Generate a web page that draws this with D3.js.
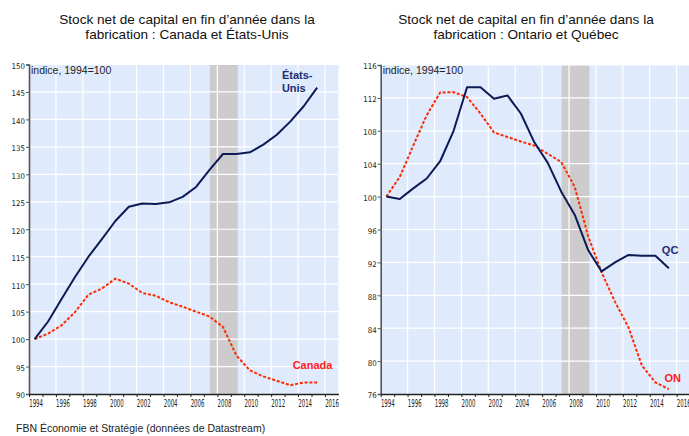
<!DOCTYPE html>
<html>
<head>
<meta charset="utf-8">
<script src="https://cdn.jsdelivr.net/npm/d3@7"></script>
<style>
  body { margin: 0; background: #ffffff; }
  svg { display: block; font-family: "Liberation Sans", Arial, sans-serif; }
  .title { font-size: 13.6px; fill: #111; }
  .unit { font-size: 10.5px; fill: #222; }
  .source { font-size: 10.5px; fill: #222; }
  .lbl { font-size: 11px; font-weight: bold; }
  .y-axis text { font-family: "Liberation Sans Narrow", "DejaVu Sans Condensed", sans-serif; font-size: 7.8px; fill: #222; }
  .x-axis text { font-family: "Liberation Sans Narrow", "DejaVu Sans Condensed", sans-serif; font-size: 10.4px; fill: #222; }
</style>
</head>
<body>
<div id="chart"></div>
<script>
// Years (annual, end of year)
var years = [1994, 1995, 1996, 1997, 1998, 1999, 2000, 2001, 2002, 2003, 2004,
  2005, 2006, 2007, 2008, 2009, 2010, 2011, 2012, 2013, 2014, 2015];

// Left panel: Canada vs United States (index, 1994=100)
var us_values = [100, 103.2, 107.3, 111.3, 115.0, 118.2, 121.5, 124.1, 124.7, 124.6, 124.9,
  125.9, 127.7, 130.8, 133.7, 133.7, 134.0, 135.4, 137.2, 139.6, 142.4, 145.8];
var canada_values = [100, 101.0, 102.5, 104.9, 108.1, 109.2, 111.0, 110.1, 108.4, 107.9, 106.7,
  105.9, 105.0, 104.1, 102.2, 97.0, 94.3, 93.2, 92.4, 91.6, 92.1, 92.1];

// Right panel: Quebec vs Ontario (index, 1994=100)
var qc_values = [100, 99.7, 101.0, 102.2, 104.3, 108.0, 113.3, 113.3, 111.9, 112.3, 110.1,
  106.6, 104.1, 100.6, 97.8, 93.5, 90.9, 92.0, 92.9, 92.8, 92.8, 91.3];
var on_values = [100, 102.4, 106.2, 109.9, 112.65, 112.7, 112.1, 110.1, 107.8, 107.25, 106.7,
  106.2, 105.2, 104.2, 101.2, 95.2, 90.8, 87.2, 84.1, 79.45, 77.4, 76.6];

// Axis ticks
var left_y_ticks = [90, 95, 100, 105, 110, 115, 120, 125, 130, 135, 140, 145, 150];
var right_y_ticks = [76, 80, 84, 88, 92, 96, 100, 104, 108, 112, 116];
var x_label_years = [1994, 1996, 1998, 2000, 2002, 2004, 2006, 2008, 2010, 2012, 2014, 2016];

// Recession band
var recession = [2007.45, 2009.52];

var width = 689, height = 436;
var navy = "#0c1a56", red = "#ff2a00";

var svg = d3.select("#chart")
  .append("svg")
  .attr("width", width)
  .attr("height", height)
  .attr("viewBox", [0, 0, width, height]);

function draw_panel(cfg) {
  var x = d3.scaleLinear().domain([1994, 2017]).range([cfg.left, cfg.left + 309.4]);
  var y = d3.scaleLinear().domain(cfg.y_domain).range([394, cfg.top]);
  var g = svg.append("g");

  // plot background
  g.append("rect")
    .attr("x", x(1994))
    .attr("y", y(cfg.y_domain[1]))
    .attr("width", x(2017) - x(1994))
    .attr("height", y(cfg.y_domain[0]) - y(cfg.y_domain[1]))
    .attr("fill", "#dfeafc");

  // recession shading
  g.append("rect")
    .attr("x", x(recession[0]))
    .attr("y", y(cfg.y_domain[1]))
    .attr("width", x(recession[1]) - x(recession[0]))
    .attr("height", y(cfg.y_domain[0]) - y(cfg.y_domain[1]))
    .attr("fill", "#cccccc");

  // grid lines
  g.selectAll(".hgrid")
    .data(cfg.y_ticks.slice(1))
    .enter()
    .append("line")
    .attr("x1", x(1994))
    .attr("x2", x(2017))
    .attr("y1", (d) => y(d))
    .attr("y2", (d) => y(d))
    .attr("stroke", "#ffffff")
    .attr("stroke-width", 1.2);

  g.selectAll(".vgrid")
    .data(x_label_years.slice(1))
    .enter()
    .append("line")
    .attr("x1", (d) => x(d))
    .attr("x2", (d) => x(d))
    .attr("y1", y(cfg.y_domain[1]))
    .attr("y2", y(cfg.y_domain[0]))
    .attr("stroke", "#ffffff")
    .attr("stroke-width", 1.2);

  // series lines, values sit a bit after each year tick
  var line = d3.line()
    .x((d, i) => x(years[i] + 0.42))
    .y((d) => y(d));

  g.append("path")
    .datum(cfg.red_values)
    .attr("d", line)
    .attr("fill", "none")
    .attr("stroke", red)
    .attr("stroke-width", 2)
    .attr("stroke-dasharray", "3,1.8");

  g.append("path")
    .datum(cfg.navy_values)
    .attr("d", line)
    .attr("fill", "none")
    .attr("stroke", navy)
    .attr("stroke-width", 2)
    .attr("stroke-linejoin", "round");

  // y axis
  var y_axis = g.append("g")
    .attr("class", "y-axis")
    .attr("transform", "translate(" + x(1994) + ",0)")
    .call(d3.axisLeft(y).tickValues(cfg.y_ticks).tickSize(3).tickPadding(1));
  y_axis.select(".domain").attr("stroke", "#555").attr("stroke-width", 1.6);
  y_axis.selectAll(".tick line").attr("stroke", "#555");
  y_axis.selectAll(".tick text").attr("dy", "0.5em");

  // x axis
  var x_axis = g.append("g")
    .attr("class", "x-axis")
    .attr("transform", "translate(0," + y(cfg.y_domain[0]) + ")")
    .call(d3.axisBottom(x).tickValues(years.concat([2016])).tickSize(3).tickSizeOuter(0)
      .tickFormat((d) => (x_label_years.indexOf(d) >= 0 ? d : "")));
  x_axis.select(".domain").attr("stroke", "#222").attr("stroke-width", 1.4);
  x_axis.selectAll(".tick line").attr("stroke", "#222");
  x_axis.selectAll(".tick text")
    .attr("text-anchor", "start")
    .attr("x", -0.5)
    .attr("y", 0)
    .attr("dy", 0)
    .attr("transform", "translate(0,13) scale(0.58,1)");

  // titles
  svg.append("text")
    .attr("class", "title")
    .attr("x", cfg.title_x)
    .attr("y", 24)
    .attr("text-anchor", "middle")
    .text("Stock net de capital en fin d\u2019ann\u00e9e dans la");
  svg.append("text")
    .attr("class", "title")
    .attr("x", cfg.title_x)
    .attr("y", 39)
    .attr("text-anchor", "middle")
    .text(cfg.title2);

  svg.append("text")
    .attr("class", "unit")
    .attr("x", x(1994) + 2)
    .attr("y", 74)
    .text("indice, 1994=100");

  // series labels
  cfg.labels.forEach(function (l) {
    var t = svg.append("text")
      .attr("class", "lbl")
      .attr("x", x(l.year))
      .attr("y", y(l.value))
      .attr("fill", l.color);
    l.lines.forEach(function (s, i) {
      t.append("tspan").attr("x", x(l.year)).attr("dy", i === 0 ? 0 : 13.3).text(s);
    });
  });
}

draw_panel({
  left: 29,
  top: 64.5,
  y_domain: [90, 150],
  y_ticks: left_y_ticks,
  navy_values: us_values,
  red_values: canada_values,
  title_x: 187,
  title2: "fabrication : Canada et \u00c9tats-Unis",
  labels: [
    { lines: ["\u00c9tats-", "Unis"], year: 2012.8, value: 147.4, color: "#1a2f75" },
    { lines: ["Canada"], year: 2013.6, value: 94.6, color: "#ff1a1a" }
  ]
});

draw_panel({
  left: 380.7,
  top: 65,
  y_domain: [76, 116],
  y_ticks: right_y_ticks,
  navy_values: qc_values,
  red_values: on_values,
  title_x: 526,
  title2: "fabrication : Ontario et Qu\u00e9bec",
  labels: [
    { lines: ["QC"], year: 2014.9, value: 93.0, color: "#1a2f75" },
    { lines: ["ON"], year: 2015.1, value: 77.5, color: "#ff1a1a" }
  ]
});

svg.append("text")
  .attr("class", "source")
  .attr("x", 16)
  .attr("y", 432)
  .text("FBN \u00c9conomie et Strat\u00e9gie (donn\u00e9es de Datastream)");
</script>
</body>
</html>
